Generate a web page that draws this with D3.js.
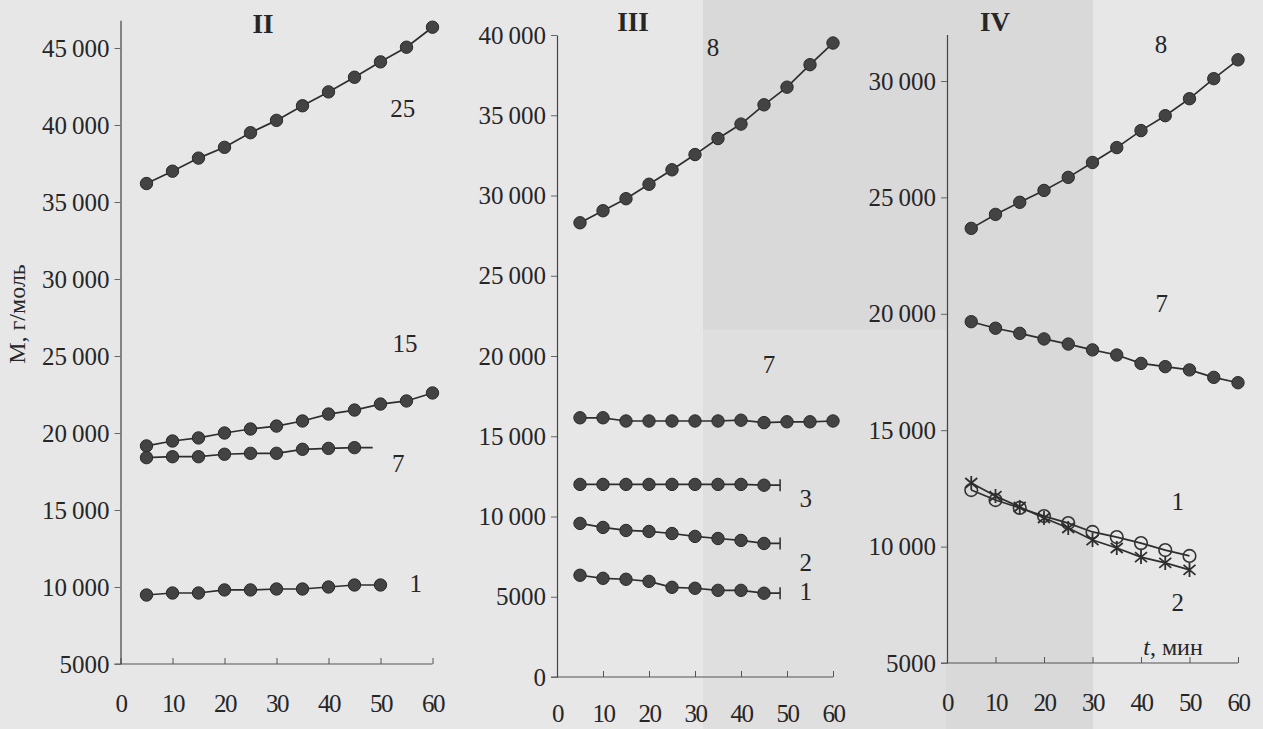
<!DOCTYPE html>
<html>
<head>
<meta charset="utf-8">
<script src="https://cdn.jsdelivr.net/npm/d3@7"></script>
<style>
  html, body { margin: 0; padding: 0; background: #e6e6e6; }
  svg { display: block; }
  svg text { font-family: "Liberation Serif", "Times New Roman", Times, "DejaVu Serif", serif; fill: #262626; }
</style>
</head>
<body>
<svg id="chart" width="1263" height="729"></svg>
<script>
// Time points, min
const t12 = [5, 10, 15, 20, 25, 30, 35, 40, 45, 50, 55, 60];
const t10 = [5, 10, 15, 20, 25, 30, 35, 40, 45, 50];
const t9  = [5, 10, 15, 20, 25, 30, 35, 40, 45];

// Panel II: molar mass, g/mol
const mII_25 = [36200, 37000, 37850, 38550, 39500, 40300, 41250, 42150, 43100, 44100, 45050, 46350];
const mII_15 = [19160, 19480, 19680, 20000, 20260, 20450, 20780, 21230, 21490, 21880, 22080, 22600];
const mII_7  = [18400, 18460, 18460, 18620, 18680, 18680, 18940, 19000, 19050];
const mII_1  = [9480, 9610, 9610, 9810, 9810, 9870, 9870, 10000, 10130, 10130];

// Panel III
const mIII_8 = [28300, 29050, 29800, 30700, 31600, 32550, 33550, 34450, 35650, 36750, 38150, 39500];
const mIII_7 = [16150, 16150, 15950, 15950, 15950, 15950, 15950, 16000, 15850, 15900, 15900, 15950];
const mIII_3 = [12000, 12000, 12000, 12000, 12000, 12000, 12000, 12000, 11950];
const mIII_2 = [9570, 9320, 9130, 9070, 8940, 8760, 8630, 8510, 8320];
const mIII_1 = [6340, 6150, 6090, 5960, 5590, 5530, 5400, 5400, 5220];

// Panel IV
const mIV_8 = [23670, 24270, 24790, 25300, 25860, 26500, 27140, 27870, 28510, 29240, 30100, 30910];
const mIV_7 = [19660, 19380, 19160, 18920, 18700, 18450, 18230, 17870, 17730, 17590, 17270, 17040];
const mIV_1 = [12430, 12000, 11660, 11310, 11010, 10630, 10410, 10150, 9850, 9600];
const mIV_2 = [12730, 12170, 11700, 11230, 10800, 10280, 9940, 9550, 9300, 9000];

// Where a short tail ends after the last measured point
const tailT = 48.5;

// Axis ticks
const xTicks = [0, 10, 20, 30, 40, 50, 60];
const yTicksII  = [5000, 10000, 15000, 20000, 25000, 30000, 35000, 40000, 45000];
const yTicksIII = [0, 5000, 10000, 15000, 20000, 25000, 30000, 35000, 40000];
const yTicksIV  = [5000, 10000, 15000, 20000, 25000, 30000];

const SERIF = '"Liberation Serif", "Times New Roman", Times, "DejaVu Serif", serif';

const svg = d3.select("#chart");

// Paper tone of the printed page
svg.append("rect").attr("width", 1263).attr("height", 729).attr("fill", "#e7e7e7");
svg.append("rect").attr("x", 703).attr("y", 0).attr("width", 390).attr("height", 729).attr("fill", "#d9d9d9");
svg.append("rect").attr("x", 703).attr("y", 330).attr("width", 243).attr("height", 399).attr("fill", "#dfdfdf");

const fmt = v => v >= 10000 ? d3.format(",")(v).replace(/,/g, "\u2009") : String(v);

function panel(cfg) {
  const g = svg.append("g");
  const x = d3.scaleLinear().domain([0, 60]).range(cfg.xr);
  const y = d3.scaleLinear().domain(cfg.yd).range(cfg.yr);

  // x axis with inward ticks
  const xa = g.append("g").attr("transform", `translate(0,${cfg.yr[0]})`)
    .call(d3.axisBottom(x).tickValues(xTicks).tickSize(-6).tickSizeOuter(0).tickPadding(cfg.xpad).tickFormat(d3.format("d")));
  xa.attr("font-family", SERIF);
  xa.select(".domain").attr("stroke", "#555").attr("stroke-width", 1.1)
    .attr("d", `M${cfg.xr[0] - 6},0H${cfg.xr[1]}`);
  xa.selectAll(".tick line").attr("stroke", "#555");
  xa.selectAll(".tick text").attr("font-size", 25).attr("letter-spacing", -1.5)
    .style("font-family", SERIF).attr("fill", "#262626");

  // y axis
  const ya = g.append("g").attr("transform", `translate(${cfg.xr[0]},0)`)
    .call(d3.axisLeft(y).tickValues(cfg.yt).tickSize(6).tickSizeOuter(0).tickPadding(5).tickFormat(fmt));
  ya.attr("font-family", SERIF);
  ya.select(".domain").attr("stroke", "#444").attr("stroke-width", 1.2);
  ya.selectAll(".tick line").attr("stroke", "#666");
  ya.selectAll(".tick text").attr("font-size", 25)
    .style("font-family", SERIF).attr("fill", "#262626");

  // panel number
  g.append("text").attr("x", cfg.title[0]).attr("y", cfg.title[1])
    .attr("text-anchor", "middle").attr("dominant-baseline", "central")
    .style("font-family", SERIF)
    .attr("font-size", 27).attr("font-weight", "bold").text(cfg.name);

  const line = d3.line().x(d => x(d[0])).y(d => y(d[1]));

  cfg.series.forEach(s => {
    const pts = s.t.map((tt, i) => [tt, s.m[i]]);
    const path = pts.slice();
    if (s.tail) path.push([tailT, s.m[s.m.length - 1]]);
    g.append("path").attr("d", line(path)).attr("fill", "none")
      .attr("stroke", "#2e2e2e").attr("stroke-width", 1.7);
    if (s.tail === "bar") {
      const lx = x(tailT), ly = y(s.m[s.m.length - 1]);
      g.append("line").attr("x1", lx).attr("x2", lx).attr("y1", ly - 6).attr("y2", ly + 6)
        .attr("stroke", "#2e2e2e").attr("stroke-width", 1.5);
    }
    const mk = g.append("g").selectAll("g").data(pts).join("g")
      .attr("transform", d => `translate(${x(d[0])},${y(d[1])})`);
    if (s.marker === "dot") {
      mk.append("circle").attr("r", 6.2).attr("fill", "#434343").attr("stroke", "#2a2a2a").attr("stroke-width", 1);
    } else if (s.marker === "ring") {
      mk.append("circle").attr("r", 6.3).attr("fill", "none").attr("stroke", "#333").attr("stroke-width", 1.6);
    } else if (s.marker === "star") {
      mk.append("path").attr("d", "M0,-7V7M-6,-5L6,5M-6,5L6,-5")
        .attr("stroke", "#2e2e2e").attr("stroke-width", 1.8).attr("fill", "none");
    }
    if (s.label) {
      g.append("text").attr("x", x(s.label[0])).attr("y", y(s.label[1]))
        .attr("text-anchor", "middle").attr("dominant-baseline", "central")
        .style("font-family", SERIF)
        .attr("font-size", 25).text(s.name);
    }
  });
  return { g, x, y };
}

panel({
  name: "II", title: [263, 24],
  xr: [120.5, 432.5], yd: [5000, 46800], yr: [664, 664 - 41800 * 0.0154], yt: yTicksII, xpad: 30,
  series: [
    { name: "25", t: t12, m: mII_25, marker: "dot", label: [54.3, 41100] },
    { name: "15", t: t12, m: mII_15, marker: "dot", label: [54.7, 25840] },
    { name: "7",  t: t9,  m: mII_7,  marker: "dot", tail: "line", label: [53.4, 18050] },
    { name: "1",  t: t10, m: mII_1,  marker: "dot", label: [56.8, 10200] }
  ]
});

panel({
  name: "III", title: [633, 22],
  xr: [557, 833], yd: [0, 40000], yr: [677, 35], yt: yTicksIII, xpad: 27,
  series: [
    { name: "8", t: t12, m: mIII_8, marker: "dot", label: [33.9, 39250] },
    { name: "7", t: t12, m: mIII_7, marker: "dot", label: [46.1, 19440] },
    { name: "3", t: t9,  m: mIII_3, marker: "dot", tail: "bar", label: [54.1, 11150] },
    { name: "2", t: t9,  m: mIII_2, marker: "dot", tail: "bar", label: [54.1, 7165] },
    { name: "1", t: t9,  m: mIII_1, marker: "dot", tail: "bar", label: [54.1, 5300] }
  ]
});

const p4 = panel({
  name: "IV", title: [995, 22],
  xr: [947, 1238], yd: [5000, 32000], yr: [663, 663 - 27000 * 0.02328], yt: yTicksIV, xpad: 30,
  series: [
    { name: "8", t: t12, m: mIV_8, marker: "dot", label: [44.1, 31550] },
    { name: "7", t: t12, m: mIV_7, marker: "dot", label: [44.3, 20460] },
    { name: "1", t: t10, m: mIV_1, marker: "ring", label: [47.6, 11920] },
    { name: "2", t: t10, m: mIV_2, marker: "star", label: [47.6, 7620] }
  ]
});

// time axis title
const tl = p4.g.append("text").attr("x", p4.x(46.6)).attr("y", p4.y(5690))
  .attr("text-anchor", "middle").attr("dominant-baseline", "central")
  .style("font-family", SERIF).attr("font-size", 24);
tl.append("tspan").attr("font-style", "italic").text("t");
tl.append("tspan").text(", мин");

// shared quantity label
svg.append("text").attr("transform", "translate(17,314) rotate(-90)")
  .attr("text-anchor", "middle").attr("dominant-baseline", "central")
  .style("font-family", SERIF)
  .attr("font-size", 24).text("M, г/моль");
</script>
</body>
</html>
